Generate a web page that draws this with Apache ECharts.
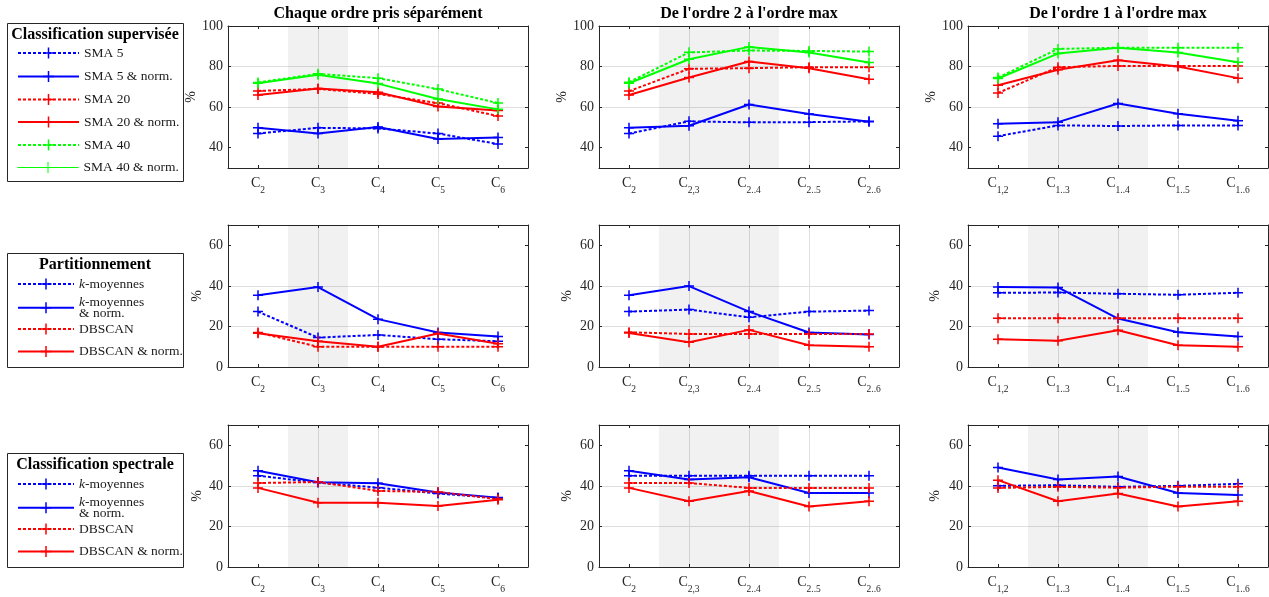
<!DOCTYPE html>
<html><head><meta charset="utf-8">
<script src="https://cdn.jsdelivr.net/npm/echarts@6/dist/echarts.min.js"></script>
<style>html,body{margin:0;padding:0;background:#fff}#c{width:1269px;height:597px}</style>
</head><body><div id="c"></div>
<script>
// ---------- data ----------
const columnTitles = ["Chaque ordre pris séparément", "De l'ordre 2 à l'ordre max", "De l'ordre 1 à l'ordre max"];
const xSubscripts = [["2","3","4","5","6"],["2","2,3","2..4","2..5","2..6"],["1,2","1..3","1..4","1..5","1..6"]];
const xPositions = [1,2,3,4,5];
const bandRanges = [[1.5,2.5],[1.5,3.5],[1.5,3.5]];
const rowTitles = ["Classification supervisée","Partitionnement","Classification spectrale"];
const supNames = ["SMA 5","SMA 5 & norm.","SMA 20","SMA 20 & norm.","SMA 40","SMA 40 & norm."];
const clusNames = ["k-moyennes","k-moyennes & norm.","DBSCAN","DBSCAN & norm."];
const yTicksTop = [40,60,80,100];
const yTicksLow = [0,20,40,60];
const yRangeTop = [30,100];
const yRangeLow = [0,70];

// Classification supervisée (one list of 5 values per column)
const sma5      = [[47.0,49.8,49.5,47.0,41.8],[47.0,53.0,52.5,52.6,53.0],[45.7,51.0,50.7,51.0,51.0]];
const sma5Norm  = [[49.8,47.0,50.2,44.3,45.0],[49.8,50.8,61.3,56.6,52.8],[51.8,52.6,61.8,56.7,53.3]];
const sma20     = [[68.0,69.0,66.5,62.0,55.6],[67.9,78.9,79.2,79.7,79.7],[67.0,79.7,80.3,80.3,80.3]];
const sma20Norm = [[66.0,69.2,67.3,60.3,58.4],[66.0,74.6,82.5,79.2,73.8],[70.8,78.4,83.1,80.0,74.3]];
const sma40     = [[72.2,76.4,74.3,68.9,62.0],[72.3,87.0,87.9,87.7,87.4],[74.6,88.7,89.3,89.3,89.3]];
const sma40Norm = [[71.8,76.0,71.6,64.0,58.9],[71.8,83.6,89.7,86.9,82.0],[74.1,86.4,89.3,86.9,82.1]];

// Partitionnement
const partKm     = [[27.3,14.5,15.8,13.7,12.7],[27.3,28.3,24.5,27.3,27.8],[36.6,36.7,36.1,35.6,36.6]];
const partKmNorm = [[35.4,39.4,23.6,17.0,15.0],[35.4,39.9,27.3,17.0,16.0],[39.4,39.2,23.9,17.1,15.0]];
const partDb     = [[17.0,10.0,10.0,10.0,10.0],[17.1,16.3,16.3,16.3,16.3],[24.0,24.0,24.0,24.0,24.0]];
const partDbNorm = [[16.6,12.7,10.0,16.5,11.5],[16.8,12.2,18.3,10.7,10.0],[13.7,12.9,18.1,10.7,10.0]];

// Classification spectrale
const specKm     = [[45.0,41.6,39.1,36.2,34.0],[45.0,45.0,45.0,45.0,45.0],[40.0,40.3,39.5,40.0,41.0]];
const specKmNorm = [[47.4,41.8,41.3,36.7,34.2],[47.4,43.1,44.2,36.5,36.5],[49.0,43.1,44.6,36.5,35.5]];
const specDb     = [[41.4,41.9,37.5,37.0,33.5],[41.4,41.4,39.0,39.0,39.0],[39.0,39.5,39.1,39.6,39.6]];
const specDbNorm = [[39.0,31.7,31.7,30.1,33.2],[39.0,32.4,37.5,29.8,32.4],[42.8,32.4,36.2,29.8,32.4]];

// ---------- style / layout ----------
const FONT = '"Liberation Serif", "Times New Roman", serif';
const INK = '#262626';
const GRIDC = '#dfdfdf';
const PLUS = 'path://M0,5L10,5M5,0L5,10';
const BLUE = '#0000ff', RED = '#ff0000', GREEN = '#00ff00';
const DOT = [3, 2];
const supStyles = [[BLUE,DOT],[BLUE,'solid'],[RED,DOT],[RED,'solid'],[GREEN,DOT],[GREEN,'solid']];
const clusStyles = [[BLUE,DOT],[BLUE,'solid'],[RED,DOT],[RED,'solid']];

const rows = [
  {names: supNames, data: [sma5, sma5Norm, sma20, sma20Norm, sma40, sma40Norm], styles: supStyles, range: yRangeTop, ticks: yTicksTop, gaps:[27,30,30]},
  {names: clusNames, data: [partKm, partKmNorm, partDb, partDbNorm], styles: clusStyles, range: yRangeLow, ticks: yTicksLow, gaps:[24,25,26]},
  {names: clusNames, data: [specKm, specKmNorm, specDb, specDbNorm], styles: clusStyles, range: yRangeLow, ticks: yTicksLow, gaps:[24,25,26]}
];
const gridLeft = [228, 599, 968];
const gridTop = [26, 225, 425];
const GW = 300, GH = 142;

const grids = [], xAxes = [], yAxes = [], series = [], legends = [], graphics = [];

rows.forEach((row, r) => {
  for (let c = 0; c < 3; c++) {
    const g = r * 3 + c;
    grids.push({left: gridLeft[c], top: gridTop[r], width: GW, height: GH, show: false});
    const subs = xSubscripts[c];
    xAxes.push({
      gridIndex: g, type: 'value', min: 0.5, max: 5.5, position: 'bottom',
      axisLine: {show: true, onZero: false, lineStyle: {color: INK, width: 1}},
      axisTick: {show: true, inside: true, length: 3, customValues: xPositions, lineStyle: {color: INK}},
      axisLabel: {customValues: xPositions, margin: 4,
        formatter: v => '{c|C}{s|' + subs[Math.round(v) - 1] + '}',
        rich: {c: {fontSize: 14, fontFamily: FONT, color: INK},
               s: {fontSize: 9.5, fontFamily: FONT, color: INK, padding: [13, 0, 0, 0]}}},
      splitLine: {show: true, showMinLine: false, showMaxLine: false, lineStyle: {color: GRIDC, width: 1}}
    });
    xAxes.push({
      gridIndex: g, type: 'value', min: 0.5, max: 5.5, position: 'top',
      axisLine: {show: true, onZero: false, lineStyle: {color: INK, width: 1}},
      axisTick: {show: true, inside: true, length: 3, customValues: xPositions, lineStyle: {color: INK}},
      axisLabel: {show: false}, splitLine: {show: false}
    });
    yAxes.push({
      gridIndex: g, type: 'value', min: row.range[0], max: row.range[1], position: 'left',
      axisLine: {show: true, onZero: false, lineStyle: {color: INK, width: 1}},
      axisTick: {show: true, inside: true, length: 3, customValues: row.ticks, lineStyle: {color: INK}},
      axisLabel: {customValues: row.ticks, margin: 5, fontSize: 14, fontFamily: FONT, color: INK},
      splitLine: {show: true, showMinLine: false, showMaxLine: false, lineStyle: {color: GRIDC, width: 1}},
      name: '%', nameLocation: 'middle', nameGap: row.gaps[c],
      nameTextStyle: {fontSize: 14, fontFamily: FONT, color: INK}
    });
    yAxes.push({
      gridIndex: g, type: 'value', min: row.range[0], max: row.range[1], position: 'right',
      axisLine: {show: true, onZero: false, lineStyle: {color: INK, width: 1}},
      axisTick: {show: true, inside: true, length: 3, customValues: row.ticks, lineStyle: {color: INK}},
      axisLabel: {show: false}, splitLine: {show: false}
    });
    row.data.forEach((arr, k) => {
      const [col, type] = row.styles[k];
      const s = {
        type: 'line', name: row.names[k], xAxisIndex: 2 * g, yAxisIndex: 2 * g,
        data: arr[c].map((v, i) => [xPositions[i], v]),
        symbol: PLUS, symbolSize: 10, showAllSymbol: true,
        lineStyle: {color: col, width: 2, type: type},
        itemStyle: {color: col, borderColor: col, borderWidth: 1.5},
        emphasis: {disabled: true}, silent: true
      };
      if (k === 0) {
        s.markArea = {silent: true, itemStyle: {color: 'rgba(0,0,0,0.055)'}, label: {show: false},
          data: [[{xAxis: bandRanges[c][0]}, {xAxis: bandRanges[c][1]}]]};
      }
      series.push(s);
    });
  }
});

// column titles
columnTitles.forEach((t, c) => {
  graphics.push({type: 'text', x: gridLeft[c] + GW / 2, y: 14,
    style: {text: t, font: 'bold 16px ' + FONT, fill: '#000', align: 'center', verticalAlign: 'middle'}});
});

// legend boxes
const boxes = [
  {top: 23, h: 158, titleY: 35, itemW: 61, centers: [53, 76.5, 99.5, 122, 145, 167.5], names: supNames, styles: supStyles},
  {top: 253, h: 114, titleY: 265, itemW: 56, centers: [284, 306.5, 329, 351.5], names: clusNames, styles: clusStyles},
  {top: 453, h: 114, titleY: 464.5, itemW: 56, centers: [484, 506.5, 529, 551.5], names: clusNames, styles: clusStyles}
];
const richLeg = {
  i: {fontSize: 13.5, fontFamily: FONT, fontStyle: 'italic', color: '#1a1a1a', lineHeight: 11.5},
  t: {fontSize: 13.5, fontFamily: FONT, color: '#1a1a1a', lineHeight: 11.5}
};
function legFmt(name) {
  if (name === 'k-moyennes') return '{i|k}{t|-moyennes}';
  if (name === 'k-moyennes & norm.') return '{i|k}{t|-moyennes}\n{t|& norm.}';
  return '{t|' + name + '}';
}
boxes.forEach((b, bi) => {
  graphics.push({type: 'rect', shape: {x: 7.5, y: b.top + 0.5, width: 176, height: b.h},
    style: {fill: '#fff', stroke: INK, lineWidth: 1}, z: -10});
  graphics.push({type: 'text', x: 95, y: b.titleY,
    style: {text: rowTitles[bi], font: 'bold 16px ' + FONT, fill: '#000', align: 'center', verticalAlign: 'middle'}});
  b.names.forEach((n, k) => {
    const twoLine = n === 'k-moyennes & norm.';
    const thin = n === 'SMA 40 & norm.';
    legends.push({
      show: true, orient: 'vertical', left: 17, top: b.centers[k] - (twoLine ? 11.5 : 7), padding: 0,
      itemWidth: b.itemW, itemHeight: 14, itemGap: 0, selectedMode: false,
      data: [{name: n, lineStyle: {width: thin ? 1 : 2}, itemStyle: {borderWidth: thin ? 1 : 1.5}}],
      lineStyle: {width: 2}, itemStyle: {borderWidth: 1.5},
      formatter: legFmt, textStyle: {rich: richLeg}
    });
  });
});

const chart = echarts.init(document.getElementById('c'), null, {renderer: 'canvas'});
chart.setOption({
  animation: false,
  backgroundColor: '#fff',
  grid: grids, xAxis: xAxes, yAxis: yAxes, series: series,
  legend: legends, graphic: graphics
});
</script></body></html>
